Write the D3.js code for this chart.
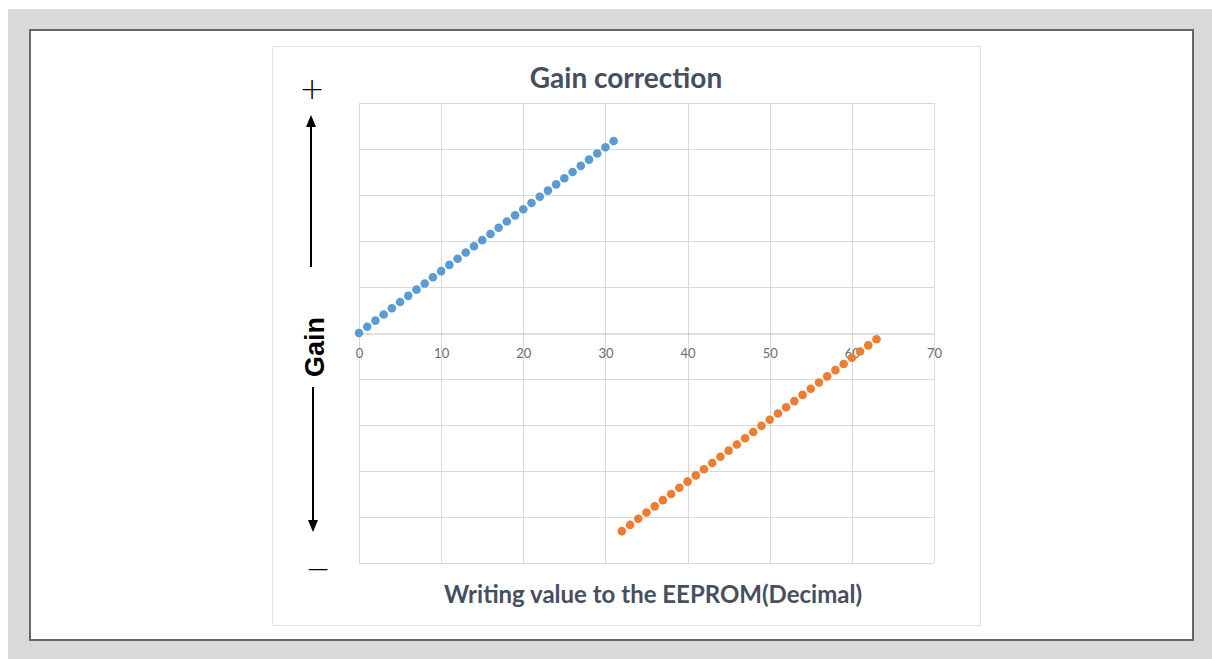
<!DOCTYPE html>
<html>
<head>
<meta charset="utf-8">
<script src="https://cdn.jsdelivr.net/npm/d3@7"></script>
<style>
  html, body { margin: 0; padding: 0; background: #ffffff; }
  svg { display: block; }
</style>
</head>
<body>
<svg id="chart" width="1212" height="659"></svg>
<script>
// ---- Data ----
const titleText = "Gain correction";
const xAxisTitle = "Writing value to the EEPROM(Decimal)";
const yAxisTitle = "Gain";
const xTickValues = [0, 10, 20, 30, 40, 50, 60, 70];
const positiveX = [0,1,2,3,4,5,6,7,8,9,10,11,12,13,14,15,16,17,18,19,20,21,22,23,24,25,26,27,28,29,30,31];
const positiveGain = [0,1,2,3,4,5,6,7,8,9,10,11,12,13,14,15,16,17,18,19,20,21,22,23,24,25,26,27,28,29,30,31];
const negativeX = [32,33,34,35,36,37,38,39,40,41,42,43,44,45,46,47,48,49,50,51,52,53,54,55,56,57,58,59,60,61,62,63];
const negativeGain = [-32,-31,-30,-29,-28,-27,-26,-25,-24,-23,-22,-21,-20,-19,-18,-17,-16,-15,-14,-13,-12,-11,-10,-9,-8,-7,-6,-5,-4,-3,-2,-1];
const yGridSteps = [-5,-4,-3,-2,-1,0,1,2,3,4,5];
const yStep = 7.43;

// ---- Drawing ----
const svg = d3.select("#chart");

svg.append("rect").attr("x", 8).attr("y", 9).attr("width", 1204).attr("height", 650).attr("fill", "#d9d9d9");
svg.append("rect").attr("x", 30).attr("y", 30).attr("width", 1163).attr("height", 610)
  .attr("fill", "#ffffff").attr("stroke", "#666666").attr("stroke-width", 2);
svg.append("rect").attr("x", 272.5).attr("y", 46.5).attr("width", 708).attr("height", 579)
  .attr("fill", "#ffffff").attr("stroke", "#e3e3e3").attr("stroke-width", 1);

const x = d3.scaleLinear().domain([0, 70]).range([359, 934]);
const y = d3.scaleLinear().domain([-5 * yStep, 5 * yStep]).range([563, 103]);

const grid = svg.append("g");
grid.selectAll("line.v").data(xTickValues).enter().append("line")
  .attr("x1", d => Math.round(x(d)) + 0.5).attr("x2", d => Math.round(x(d)) + 0.5)
  .attr("y1", y.range()[1]).attr("y2", y.range()[0])
  .attr("stroke", "#d9d9d9").attr("stroke-width", 1);
grid.selectAll("line.h").data(yGridSteps.filter(s => s !== 0)).enter().append("line")
  .attr("x1", x(0)).attr("x2", x(70))
  .attr("y1", d => Math.round(y(d * yStep)) + 0.5).attr("y2", d => Math.round(y(d * yStep)) + 0.5)
  .attr("stroke", "#d9d9d9").attr("stroke-width", 1);

// zero axis with labels
const xAxis = d3.axisBottom(x).tickValues(xTickValues).tickSize(0).tickPadding(15).tickFormat(d3.format("d"));
const axisG = svg.append("g").attr("transform", `translate(0,${Math.round(y(0)) + 0.5})`).call(xAxis);
axisG.select(".domain").attr("stroke", "#bfbfbf").attr("stroke-width", 1);
axisG.selectAll("text").attr("fill", "#6b6b6b").attr("font-family", "Lato, 'Open Sans', sans-serif").attr("font-size", 13);

// points
svg.append("g").selectAll("circle").data(positiveX.map((v, i) => [v, positiveGain[i]])).enter().append("circle")
  .attr("cx", d => x(d[0])).attr("cy", d => y(d[1])).attr("r", 4.3).attr("fill", "#5b9bd5");
svg.append("g").selectAll("circle").data(negativeX.map((v, i) => [v, negativeGain[i]])).enter().append("circle")
  .attr("cx", d => x(d[0])).attr("cy", d => y(d[1])).attr("r", 4.3).attr("fill", "#ed7d31");

// titles
svg.append("text").attr("x", 626).attr("y", 88).attr("text-anchor", "middle")
  .attr("font-family", "Lato, sans-serif").attr("font-weight", "bold").attr("font-size", 28)
  .attr("fill", "#454f5e").text(titleText);
svg.append("text").attr("x", 653).attr("y", 603).attr("text-anchor", "middle")
  .attr("font-family", "Lato, sans-serif").attr("font-weight", "bold").attr("font-size", 24)
  .attr("fill", "#454f5e").text(xAxisTitle);

// left annotation
const ann = svg.append("g").attr("fill", "#000").attr("stroke", "#000");
ann.append("line").attr("x1", 311).attr("x2", 311).attr("y1", 267).attr("y2", 124).attr("stroke-width", 2);
ann.append("path").attr("d", "M311,115 L306,127 L316,127 Z").attr("stroke", "none");
ann.append("line").attr("x1", 313).attr("x2", 313).attr("y1", 387).attr("y2", 523).attr("stroke-width", 2);
ann.append("path").attr("d", "M313,532 L308,520 L318,520 Z").attr("stroke", "none");
svg.append("text").attr("transform", "translate(324,347) rotate(-90)").attr("text-anchor", "middle")
  .attr("font-family", "'Liberation Sans', Arial, sans-serif").attr("font-weight", "bold").attr("font-size", 27)
  .attr("fill", "#000").text(yAxisTitle);
svg.append("text").attr("x", 312).attr("y", 99).attr("text-anchor", "middle")
  .attr("font-family", "'DejaVu Sans', sans-serif").attr("font-weight", "300").attr("font-size", 30)
  .attr("fill", "#000").text("+");
svg.append("text").attr("x", 318).attr("y", 579).attr("text-anchor", "middle")
  .attr("font-family", "'DejaVu Sans', sans-serif").attr("font-weight", "300").attr("font-size", 30)
  .attr("fill", "#000").text("\u2212");
</script>
</body>
</html>
